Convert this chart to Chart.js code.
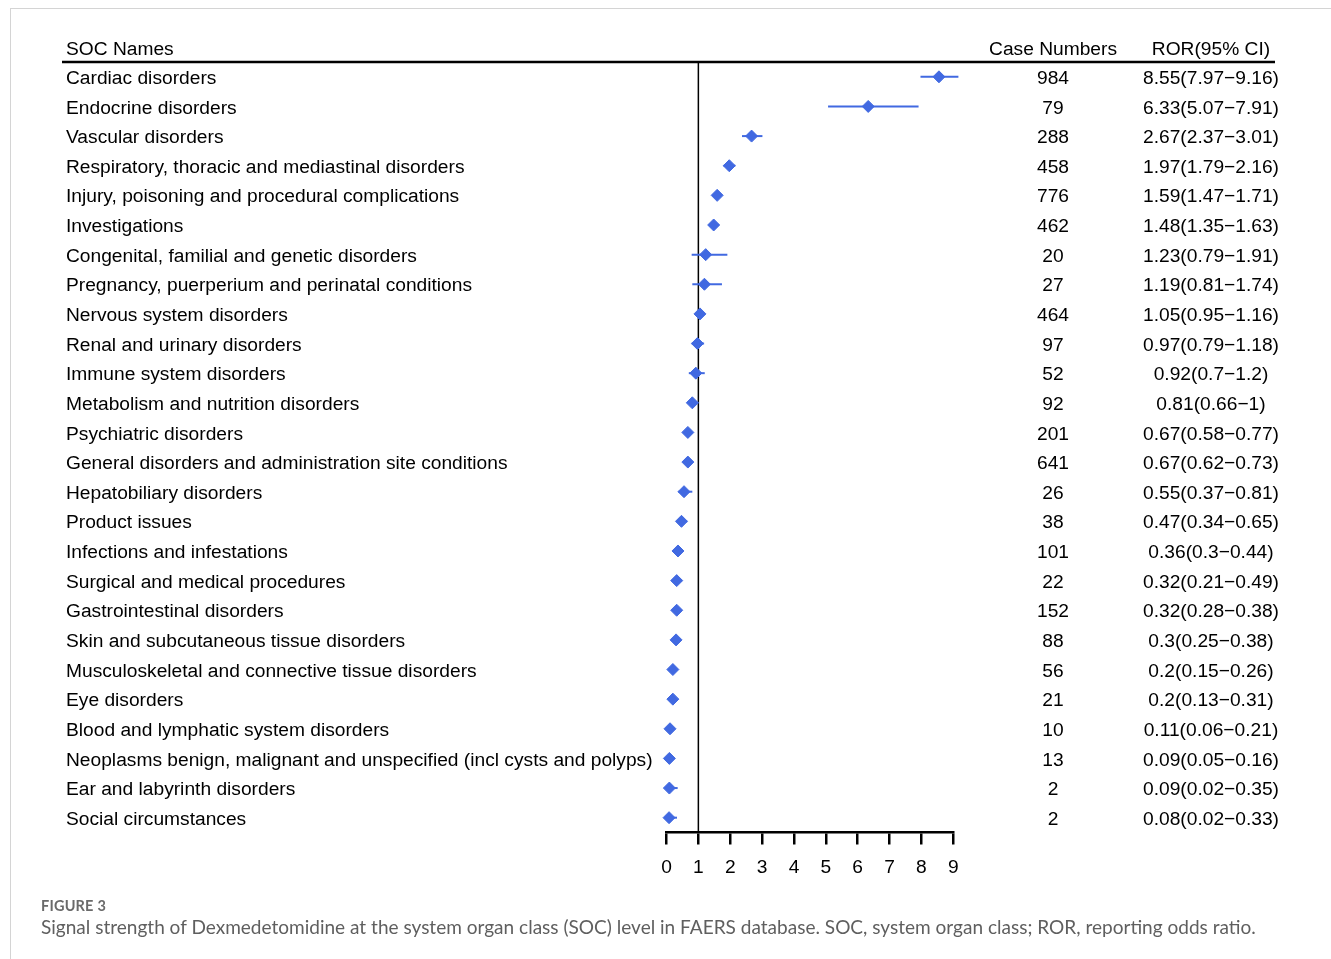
<!DOCTYPE html>
<html>
<head>
<meta charset="utf-8">
<script src="https://cdn.jsdelivr.net/npm/chart.js@4/dist/chart.umd.min.js"></script>
<style>
  html, body { margin: 0; padding: 0; background: #fff; }
  #wrap { position: relative; width: 1331px; height: 959px; overflow: hidden; }
  #frame { position: absolute; left: 10px; top: 8px; width: 1340px; height: 970px;
           border-top: 1px solid #d4d4d4; border-left: 1px solid #d4d4d4; }
  canvas { position: absolute; left: 0; top: 0; }
  .cap { position: absolute; left: 41px; font-family: Lato, "Open Sans", sans-serif; color: #5f5f5f; white-space: nowrap; }
  #figno { top: 897px; font-size: 14.5px; font-weight: bold; letter-spacing: 0.2px; color: #6a6a6a; }
  #figtxt { top: 915px; font-size: 19.05px; }
</style>
</head>
<body>
<div id="wrap">
  <div id="frame"></div>
  <canvas id="c" width="1331" height="959"></canvas>
  <div class="cap" id="figno">FIGURE 3</div>
  <div class="cap" id="figtxt">Signal strength of Dexmedetomidine at the system organ class (SOC) level in FAERS database. SOC, system organ class; ROR, reporting odds ratio.</div>
</div>
<script>
// System organ classes, top to bottom
const socNames = [
  "Cardiac disorders",
  "Endocrine disorders",
  "Vascular disorders",
  "Respiratory, thoracic and mediastinal disorders",
  "Injury, poisoning and procedural complications",
  "Investigations",
  "Congenital, familial and genetic disorders",
  "Pregnancy, puerperium and perinatal conditions",
  "Nervous system disorders",
  "Renal and urinary disorders",
  "Immune system disorders",
  "Metabolism and nutrition disorders",
  "Psychiatric disorders",
  "General disorders and administration site conditions",
  "Hepatobiliary disorders",
  "Product issues",
  "Infections and infestations",
  "Surgical and medical procedures",
  "Gastrointestinal disorders",
  "Skin and subcutaneous tissue disorders",
  "Musculoskeletal and connective tissue disorders",
  "Eye disorders",
  "Blood and lymphatic system disorders",
  "Neoplasms benign, malignant and unspecified (incl cysts and polyps)",
  "Ear and labyrinth disorders",
  "Social circumstances"
];
const caseNumbers = [984, 79, 288, 458, 776, 462, 20, 27, 464, 97, 52, 92, 201, 641, 26, 38, 101, 22, 152, 88, 56, 21, 10, 13, 2, 2];
const rorValues = [8.55, 6.33, 2.67, 1.97, 1.59, 1.48, 1.23, 1.19, 1.05, 0.97, 0.92, 0.81, 0.67, 0.67, 0.55, 0.47, 0.36, 0.32, 0.32, 0.3, 0.2, 0.2, 0.11, 0.09, 0.09, 0.08];
const ciLower = [7.97, 5.07, 2.37, 1.79, 1.47, 1.35, 0.79, 0.81, 0.95, 0.79, 0.7, 0.66, 0.58, 0.62, 0.37, 0.34, 0.3, 0.21, 0.28, 0.25, 0.15, 0.13, 0.06, 0.05, 0.02, 0.02];
const ciUpper = [9.16, 7.91, 3.01, 2.16, 1.71, 1.63, 1.91, 1.74, 1.16, 1.18, 1.2, 1, 0.77, 0.73, 0.81, 0.65, 0.44, 0.49, 0.38, 0.38, 0.26, 0.31, 0.21, 0.16, 0.35, 0.33];
const xTicks = [0, 1, 2, 3, 4, 5, 6, 7, 8, 9];
const headers = { name: "SOC Names", cases: "Case Numbers", ror: "ROR(95% CI)" };
const referenceRor = 1;

const FONT = '"Liberation Sans", Arial, Helvetica, sans-serif';
const FONT_SIZE = 19.2;
const TEXT_NUDGE = 1.8; // optical centring of text on each row
const BLUE = '#4169E1';

// One short line per confidence interval
const ciSets = socNames.map((_, i) => ({
  type: 'line',
  data: [{ x: ciLower[i], y: i }, { x: ciUpper[i], y: i }],
  borderColor: BLUE,
  borderWidth: 2,
  pointRadius: 0,
  clip: false,
  order: 2
}));

const pointSet = {
  type: 'scatter',
  data: rorValues.map((v, i) => ({ x: v, y: i })),
  pointStyle: 'rectRot',
  pointRadius: 6,
  backgroundColor: BLUE,
  borderColor: BLUE,
  borderWidth: 1,
  clip: false,
  order: 0
};

// Reference line, table header and the two right-hand text columns
const tablePlugin = {
  id: 'forestTable',
  beforeDatasetsDraw(chart) {
    const { ctx, chartArea, scales } = chart;
    const x1 = scales.x.getPixelForValue(referenceRor);
    ctx.save();
    ctx.strokeStyle = '#000';
    ctx.lineWidth = 1.5;
    ctx.beginPath();
    ctx.moveTo(x1, chartArea.top);
    ctx.lineTo(x1, chartArea.bottom);
    ctx.stroke();
    ctx.restore();
  },
  afterDraw(chart) {
    const { ctx, chartArea, scales } = chart;
    const yS = scales.y;
    const casesX = 1053, rorX = 1211;
    ctx.save();
    ctx.fillStyle = '#000';
    ctx.font = FONT_SIZE + 'px ' + FONT;
    ctx.textBaseline = 'middle';
    const headY = 48 + TEXT_NUDGE;
    ctx.textAlign = 'left';
    ctx.fillText(headers.name, 66, headY);
    ctx.textAlign = 'center';
    ctx.fillText(headers.cases, casesX, headY);
    ctx.fillText(headers.ror, rorX, headY);
    // header rule
    ctx.strokeStyle = '#000';
    ctx.lineWidth = 2.5;
    ctx.beginPath();
    ctx.moveTo(62, chartArea.top);
    ctx.lineTo(1275, chartArea.top);
    ctx.stroke();
    socNames.forEach((_, i) => {
      const y = yS.getPixelForValue(i) + TEXT_NUDGE;
      ctx.fillText(String(caseNumbers[i]), casesX, y);
      ctx.fillText(rorValues[i] + '(' + ciLower[i] + '\u2212' + ciUpper[i] + ')', rorX, y);
    });
    ctx.restore();
  }
};

new Chart(document.getElementById('c'), {
  data: { datasets: [pointSet, ...ciSets] },
  options: {
    responsive: false,
    animation: false,
    devicePixelRatio: 1,
    layout: { padding: { left: 66, right: 1331 - 953.3, top: 62, bottom: 80 } },
    plugins: { legend: { display: false }, tooltip: { enabled: false } },
    scales: {
      x: {
        type: 'linear',
        position: 'bottom',
        min: 0,
        max: 9,
        afterBuildTicks: s => { s.ticks = xTicks.map(v => ({ value: v })); },
        afterFit: s => { s.height = 46.5; },
        grid: { drawOnChartArea: false, drawTicks: true, tickLength: 12, color: '#000', lineWidth: 2.5 },
        border: { display: true, color: '#000', width: 2.5 },
        ticks: { color: '#000', font: { family: FONT, size: FONT_SIZE }, padding: 12, autoSkip: false, maxRotation: 0 }
      },
      y: {
        type: 'linear',
        position: 'left',
        reverse: true,
        min: -0.5,
        max: 25.5,
        afterBuildTicks: s => { s.ticks = socNames.map((_, i) => ({ value: i })); },
        afterFit: s => { s.width = 666.5 - 66; },
        grid: { display: false, drawTicks: false },
        border: { display: false },
        ticks: {
          crossAlign: 'far',
          autoSkip: false,
          color: '#000',
          font: { family: FONT, size: FONT_SIZE },
          padding: 0,
          labelOffset: TEXT_NUDGE,
          callback: v => socNames[v]
        }
      }
    }
  },
  plugins: [tablePlugin]
});
</script>
</body>
</html>
